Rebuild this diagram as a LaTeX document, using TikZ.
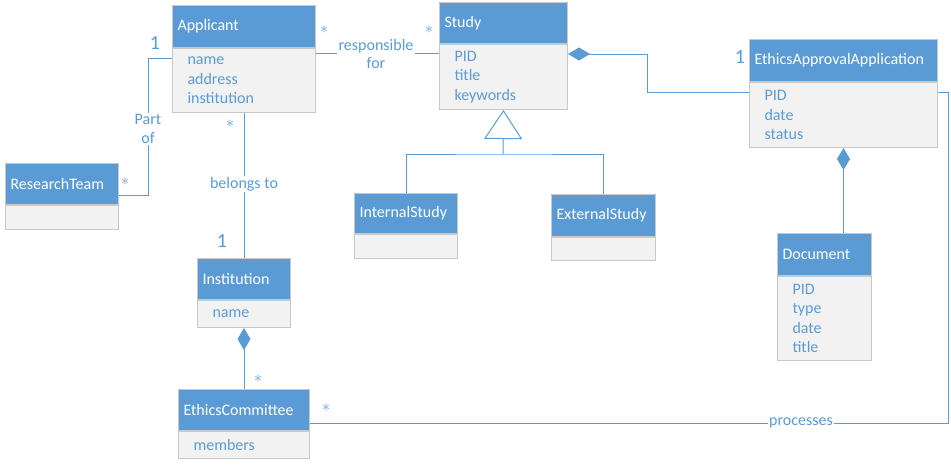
\documentclass[tikz,border=0pt]{standalone}
\usepackage{fontspec}
\setmainfont{Carlito}
\usetikzlibrary{arrows.meta}

\definecolor{umlblue}{HTML}{5B9BD5}
\definecolor{umlfill}{HTML}{F2F2F2}
\definecolor{umledge}{HTML}{C8C8C8}

\tikzset{
  hdr/.style={draw=umledge, line width=0.75pt, fill=umlblue, text=white,
    anchor=north west, align=left, inner xsep=3.75pt, inner ysep=0pt,
    font=\fontsize{12}{14}\selectfont},
  attrs/.style={draw=umledge, line width=0.75pt, fill=umlfill, text=umlblue,
    anchor=north west, align=left, inner xsep=11.25pt, inner ysep=0pt,
    font=\fontsize{12}{14.6}\selectfont},
  assoc/.style={umlblue, line width=0.75pt},
  lbl/.style={text=umlblue, fill=white, inner sep=1pt, align=center,
    font=\fontsize{12}{14.2}\selectfont},
  mult/.style={text=umlblue, inner sep=0pt, font=\fontsize{13}{13}\selectfont},
  one/.style={text=umlblue, inner sep=0pt, font=\fontsize{15}{15}\selectfont},
  comp/.style={assoc, {Diamond[length=16.5pt, width=9.75pt]}-},
}

% class box: name, x1, y1, x2, y of header bottom, y2, title, attributes
\newcommand{\umlclass}[8]{%
  \pgfmathsetmacro{\cw}{(#4-#2)*0.75}%
  \pgfmathsetmacro{\hh}{(#5-#3)*0.75}%
  \pgfmathsetmacro{\bh}{(#6-#5)*0.75}%
  \pgfmathsetmacro{\tw}{\cw-7.5}%
  \pgfmathsetmacro{\aw}{\cw-22.5}%
  \node[hdr, minimum width=\cw pt, minimum height=\hh pt, text width=\tw pt] (#1) at (#2,#3) {#7};
  \node[attrs, minimum width=\cw pt, minimum height=\bh pt, text width=\aw pt] (#1-b) at (#1.south west) {#8};
}

\begin{document}
\begin{tikzpicture}[x=0.75pt, y=-0.75pt]

        \useasboundingbox (0,0) rectangle (951,465);

        %% ── Classes ─────────────────────────────────────────────────────
        \umlclass{app}{172}{5}{315}{47}{111}{Applicant}{name\\address\\institution}
        \umlclass{team}{5}{163}{118}{204}{228}{ResearchTeam}{}
        \umlclass{inst}{197}{258}{290}{299}{326}{Institution}{name}
        \umlclass{ec}{178}{389}{309}{430}{457}{EthicsCommittee}{members}
        \umlclass{study}{439}{2}{567}{43}{108}{Study}{PID\\title\\keywords}
        \umlclass{intl}{354}{193}{457}{233}{257}{InternalStudy}{}
        \umlclass{extl}{551}{194}{655}{236}{259}{ExternalStudy}{}
        \umlclass{eaa}{749}{39}{937}{81}{146}{EthicsApprovalApplication}{PID\\date\\status}
        \umlclass{doc}{777}{233}{871}{275}{359}{Document}{PID\\type\\date\\title}

        %% ── Applicant / ResearchTeam ───────────────────────────────────
        \coordinate (po1) at (148,58);
        \coordinate (po2) at (148,195);
        \draw[assoc] (app-b.west |- po1) -- (po1) -- (po2) -- (team.east |- po2);
        \node[lbl] (partof) at (148,129) {Part\\of};
        \node[one] (m1) at (155,43) {1};
        \node[mult] (m2) at (125,182) {$\ast$};

        %% ── Applicant / Institution ────────────────────────────────────
        \draw[assoc] (app-b.south) -- (inst.north);
        \node[lbl] (belongs) at (244,184) {belongs to};
        \node[mult] (m3) at (230,124) {$\ast$};
        \node[one] (m4) at (222,241) {1};

        %% ── Applicant / Study ──────────────────────────────────────────
        \coordinate (rf) at (376,53);
        \draw[assoc] (app-b.east |- rf) -- (study-b.west |- rf);
        \node[lbl] (resp) at (376,54) {responsible\\for};
        \node[mult] (m5) at (324,30) {$\ast$};
        \node[mult] (m6) at (429,30) {$\ast$};

        %% ── Generalisation of Study ────────────────────────────────────
        \coordinate (gen) at (503,154);
        \draw[assoc, -{Triangle[open, length=21.75pt, width=28.5pt]}]
            (gen) -- (study-b.south);
        \draw[assoc] (intl.north) |- (gen) -| (extl.north);

        %% ── Compositions ───────────────────────────────────────────────
        \coordinate (sc1) at (647,54);
        \coordinate (sc2) at (647,92);
        \draw[comp] (study-b.east |- sc1) -- (sc1) -- (sc2) -- (eaa-b.west |- sc2);
        \node[one] (m7) at (740,57) {1};

        \draw[comp] (eaa-b.south) -- (doc.north -| eaa-b.south);

        \draw[comp] (inst-b.south) -- (ec.north);
        \node[mult] (m8) at (258,379) {$\ast$};

        %% ── EthicsCommittee / EthicsApprovalApplication ────────────────
        \coordinate (pr1) at (948,423);
        \coordinate (pr2) at (948,92);
        \draw[assoc] (ec.east |- pr1) -- (pr1) -- (pr2) -- (eaa-b.east |- pr2);
        \node[lbl] (proc) at (801,423) {processes};
        \node[mult] (m9) at (326,408) {$\ast$};

    \end{tikzpicture}
\end{document}
